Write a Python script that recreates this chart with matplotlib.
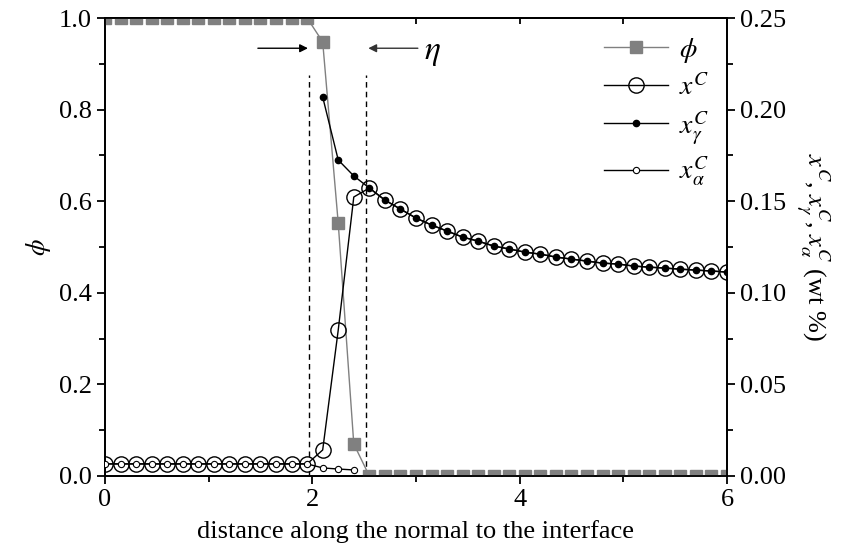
import matplotlib
matplotlib.use('Agg')
import matplotlib.pyplot as plt
from matplotlib.ticker import MultipleLocator

plt.rcParams['font.family'] = ['Liberation Serif', 'DejaVu Serif']
plt.rcParams['mathtext.fontset'] = 'stix'
plt.rcParams['font.size'] = 19

# grid along the normal, dx = 0.15
x = [0.0, 0.15, 0.3, 0.45, 0.6, 0.75, 0.9, 1.05, 1.2, 1.35, 1.5, 1.65, 1.8, 1.95,
     2.1, 2.25, 2.4, 2.55, 2.7, 2.85, 3.0, 3.15, 3.3, 3.45, 3.6, 3.75, 3.9, 4.05,
     4.2, 4.35, 4.5, 4.65, 4.8, 4.95, 5.1, 5.25, 5.4, 5.55, 5.7, 5.85, 6.0]

# phase field
phi = [1.0] * 14 + [0.948, 0.552, 0.070] + [0.0] * 24

# carbon in gamma, far field (x >= 2.55)
xc_far = [0.1572, 0.1506, 0.1457, 0.1408, 0.1370, 0.1337, 0.1304, 0.1282,
          0.1255, 0.1239, 0.1222, 0.1211, 0.1195, 0.1184, 0.1173, 0.1162,
          0.1157, 0.1146, 0.1140, 0.1135, 0.1129, 0.1124, 0.1119, 0.1113]

# total carbon
xc = [0.0066] * 14 + [0.0142, 0.0797, 0.1523] + xc_far
# carbon in gamma phase (from x = 2.1)
xc_gamma = [0.2069, 0.1725, 0.1638] + xc_far
# carbon in alpha phase (up to x = 2.4)
xc_alpha = [0.0066] * 14 + [0.0044, 0.0038, 0.0033]

fig = plt.figure(figsize=(8.5, 5.56), dpi=100)
ax = fig.add_axes([0.1235, 0.1439, 0.7318, 0.8237])
ax2 = ax.twinx()

grey = '#808080'
hphi, = ax.plot(x, phi, '-', color=grey, lw=1.0, marker='s', ms=9,
                mfc=grey, mec=grey, zorder=3)
hc, = ax2.plot(x, xc, '-', color='k', lw=1.0, marker='o', ms=11,
               mfc='none', mec='k', mew=1.0, zorder=3)
hg, = ax2.plot(x[14:], xc_gamma, '-', color='k', lw=1.0, marker='o', ms=4.5,
               mfc='k', mec='k', zorder=4)
ha, = ax2.plot(x[:17], xc_alpha, '-', color='k', lw=1.0, marker='o', ms=4.5,
               mfc='white', mec='k', mew=0.8, zorder=5)

# interface width
for xv in (1.97, 2.52):
    ax.plot([xv, xv], [0, 0.876], '--', color='k', lw=1.0, dashes=(4, 3))
ax.annotate('', xy=(1.958, 0.934), xytext=(1.475, 0.934),
            arrowprops=dict(arrowstyle='-|>', color='k', lw=1.0,
                            mutation_scale=12, shrinkA=0, shrinkB=0))
ax.annotate('', xy=(2.54, 0.934), xytext=(3.018, 0.934),
            arrowprops=dict(arrowstyle='-|>', color='#333333', lw=1.0,
                            mutation_scale=12, shrinkA=0, shrinkB=0))
ax.text(3.08, 0.925, r'$\eta$', fontsize=24, va='center', ha='left')

ax.set_xlim(0, 6)
ax.set_ylim(0, 1.0)
ax2.set_ylim(0, 0.25)

ax.xaxis.set_major_locator(MultipleLocator(2))
ax.xaxis.set_minor_locator(MultipleLocator(1))
ax.yaxis.set_major_locator(MultipleLocator(0.2))
ax.yaxis.set_minor_locator(MultipleLocator(0.1))
ax2.yaxis.set_major_locator(MultipleLocator(0.05))
ax2.yaxis.set_minor_locator(MultipleLocator(0.025))
ax.yaxis.set_major_formatter(plt.FormatStrFormatter('%.1f'))
ax2.yaxis.set_major_formatter(plt.FormatStrFormatter('%.2f'))

ax.tick_params(axis='x', which='both', direction='out', top=False, width=1.3)
ax.tick_params(axis='y', which='both', direction='out', right=False, width=1.3)
ax.tick_params(which='major', length=6)
ax.tick_params(which='minor', length=4)
ax2.tick_params(axis='y', which='both', direction='out', width=1.3)
ax2.tick_params(which='major', length=6)
ax2.tick_params(which='minor', length=4)

# marks on the top edge point inward
sec = ax.secondary_xaxis('top')
sec.xaxis.set_major_locator(MultipleLocator(1))
sec.tick_params(direction='in', length=4, width=1.3, labeltop=False)

for a in (ax, ax2):
    for s in a.spines.values():
        s.set_linewidth(1.3)
sec.spines['top'].set_linewidth(1.3)

ax.set_xlabel('distance along the normal to the interface', labelpad=6)
ax.set_ylabel(r'$\phi$', labelpad=4)
ax2.set_ylabel(r'$x^C$, $x^C_\gamma$, $x^C_\alpha$ (wt %)', rotation=270,
               labelpad=32)

leg = ax2.legend([hphi, hc, hg, ha],
                 [r'$\phi$', r'$x^C$', r'$x^C_\gamma$', r'$x^C_\alpha$'],
                 loc='upper right', bbox_to_anchor=(0.99, 0.985),
                 frameon=False, handlelength=2.3, handletextpad=0.4,
                 labelspacing=0.3, borderaxespad=0, fontsize=20)

fig.savefig('out.png', dpi=100)
